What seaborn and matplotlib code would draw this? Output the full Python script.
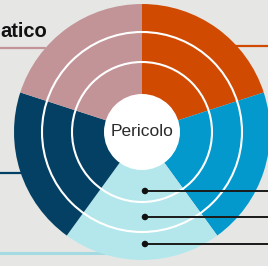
import matplotlib
matplotlib.use("Agg")
import matplotlib.pyplot as plt
from matplotlib.patches import Circle
import seaborn as sns
import pandas as pd

# --- dati ---
categorie = ["Arancione", "Blu", "Azzurro", "Blu scuro", "Rosa"]
valori = [1, 1, 1, 1, 1]
colori = ["#D04A02", "#0399CD", "#B3E7EC", "#034064", "#C39497"]
titolo_centro = "Pericolo"
titolo_sx = "atico"
punti_y = [75, 49, 22]   # righe con pallino in basso a destra (coordinate dal basso)

sns.set_theme(style="white")
plt.rcParams["font.family"] = ["Liberation Sans", "DejaVu Sans"]

fig = plt.figure(figsize=(2.68, 2.66), dpi=100)
fig.patch.set_facecolor("#E6E7E5")
ax = fig.add_axes([0, 0, 1, 1])
ax.set_facecolor("#E6E7E5")

# linee di collegamento colorate (dietro la torta)
ax.plot([0, 45], [218, 218], color="#C39497", lw=1.6, zorder=1)
ax.plot([0, 40], [93, 93], color="#034064", lw=1.6, zorder=1)
ax.plot([0, 110], [13, 13], color="#A4DAE2", lw=2.2, zorder=1)
ax.plot([230, 268], [220, 220], color="#D04A02", lw=1.6, zorder=1)

cx, cy, r = 142, 134, 128
ax.pie(valori, colors=colori, startangle=90, counterclock=False,
       center=(cx, cy), radius=r, wedgeprops=dict(linewidth=0),
       frame=True)

# anelli bianchi
for rr in [70, 100]:
    ax.add_patch(Circle((cx, cy), rr, fill=False, ec="white", lw=1.5, zorder=3))
ax.add_patch(Circle((cx, cy), 38, fc="white", ec="none", zorder=4))

ax.text(cx, cy + 1, titolo_centro, ha="center", va="center", fontsize=12.5,
        color="#2b2b2b", zorder=5)
ax.text(0.5, 229, titolo_sx, ha="left", va="baseline", fontsize=14.5,
        fontweight="bold", color="#111111", zorder=5)

# righe con pallino
df_punti = pd.DataFrame({"x": [145] * len(punti_y), "y": punti_y})
for y in punti_y:
    ax.plot([145, 268], [y, y], color="#1a1a1a", lw=1.4, zorder=5)
sns.scatterplot(data=df_punti, x="x", y="y", ax=ax, color="#111111", s=22,
                edgecolor="none", zorder=6, legend=False)

ax.set_xlim(0, 268)
ax.set_ylim(0, 266)
ax.set_aspect("equal")
ax.set_xticks([])
ax.set_yticks([])
ax.set_xlabel("")
ax.set_ylabel("")
for s in ax.spines.values():
    s.set_visible(False)

fig.savefig("out.png", dpi=100, facecolor=fig.get_facecolor())
